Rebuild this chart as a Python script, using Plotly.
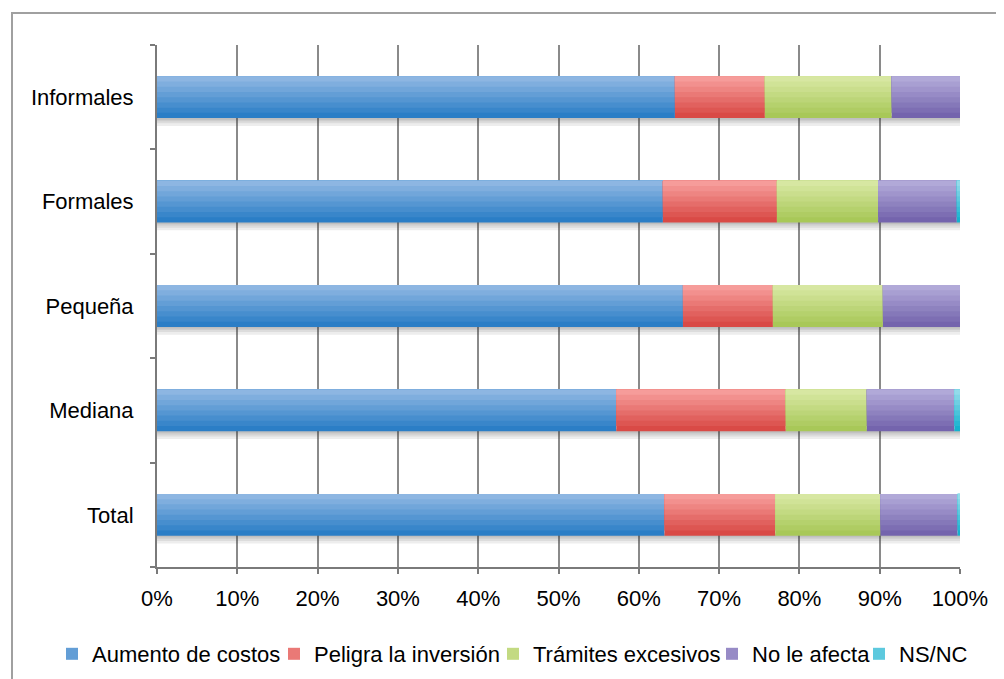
import plotly.graph_objects as go

categories = ["Total", "Mediana", "Pequeña", "Formales", "Informales"]
series_names = ["Aumento de costos", "Peligra la inversión", "Trámites excesivos", "No le afecta", "NS/NC"]
aumento = [63.2, 57.2, 65.5, 63.0, 64.5]
peligra = [13.8, 21.1, 11.2, 14.2, 11.2]
tramites = [13.1, 10.1, 13.7, 12.6, 15.8]
no_afecta = [9.6, 10.9, 9.6, 9.8, 8.5]
nsnc = [0.3, 0.7, 0.0, 0.4, 0.0]
x_ticks = [0, 10, 20, 30, 40, 50, 60, 70, 80, 90, 100]
x_ticklabels = [f"{v}%" for v in x_ticks]

series_values = [aumento, peligra, tramites, no_afecta, nsnc]
# gradient (top colour, bottom colour) per series
grad_top = ["#8DB6E2", "#F69C9A", "#D7E7A2", "#B1A9D8", "#93DBEA"]
grad_bot = ["#2B7EC6", "#D94A46", "#A8C858", "#7464AD", "#14B2CE"]


def hex_to_rgb(h):
    h = h.lstrip("#")
    return [int(h[i:i + 2], 16) for i in (0, 2, 4)]


def mix(c1, c2, t):
    a, b = hex_to_rgb(c1), hex_to_rgb(c2)
    return "rgb({},{},{})".format(*[round(a[i] + (b[i] - a[i]) * t) for i in range(3)])


# page has an 8px body margin; figure coordinates = page coordinates - 8
W, H = 996, 671
L, R, T, B = 149, 44, 37, 112
pw, ph = W - L - R, H - T - B

legend_text_x = [92, 314, 533, 752, 899]
legend_ids = ["legend", "legend2", "legend3", "legend4", "legend5"]

BAR_W = 0.4
N_STRIPS = 8
strip_w = BAR_W / N_STRIPS

fig = go.Figure()

# soft shadow under each bar (full length of the stacked bar)
totals = [sum(v[i] for v in series_values) for i in range(len(categories))]
for ext in [0.075, 0.05, 0.03, 0.015]:
    fig.add_trace(go.Bar(
        y=categories, x=totals, base=[0] * len(categories), orientation="h",
        width=ext + 0.02, offset=-BAR_W / 2 - ext,
        marker=dict(color="rgba(60,60,60,0.09)", line=dict(width=0)),
        showlegend=False, hoverinfo="skip",
    ))

cum = [0.0] * len(categories)
for s, (name, vals, lid) in enumerate(zip(series_names, series_values, legend_ids)):
    base = list(cum)
    for k in range(N_STRIPS):
        t = k / (N_STRIPS - 1)  # 0 = bottom, 1 = top
        col = mix(grad_bot[s], grad_top[s], t)
        # each layer reaches the top edge of the bar; later layers paint over earlier ones
        fig.add_trace(go.Bar(
            y=categories, x=vals, base=base, orientation="h", name=name,
            width=BAR_W - k * strip_w, offset=-BAR_W / 2 + k * strip_w,
            marker=dict(color=col, line=dict(width=0)),
            legend=lid, showlegend=(k == N_STRIPS // 2),
        ))
    cum = [c + v for c, v in zip(cum, vals)]

legend_y = (H - B - 646) / ph
legend_layouts = {}
for lid, tx in zip(legend_ids, legend_text_x):
    legend_layouts[lid] = dict(
        orientation="h", xref="container", x=(tx - 8 - 40) / W, xanchor="left",
        y=legend_y, yanchor="middle", font=dict(size=22), itemwidth=30,
        bgcolor="rgba(0,0,0,0)", borderwidth=0,
    )

fig.update_layout(
    width=W, height=H,
    barmode="overlay",
    margin=dict(l=L, r=R, t=T, b=B, autoexpand=False),
    paper_bgcolor="white", plot_bgcolor="white",
    font=dict(family="Liberation Sans, Arial, sans-serif", size=22, color="#000000"),
    showlegend=True,
    shapes=[dict(type="rect", xref="paper", yref="paper",
                 x0=(4 - L) / pw, x1=(1010 - L) / pw,
                 y0=(H - B - 690) / ph, y1=(H - B - 5) / ph,
                 line=dict(color="#A0A0A0", width=2), fillcolor="rgba(0,0,0,0)",
                 layer="below")],
    **legend_layouts,
)
fig.update_xaxes(
    range=[0, 100], tickvals=x_ticks, ticktext=x_ticklabels,
    showgrid=True, gridcolor="#8A8A8A", gridwidth=2,
    showline=True, linecolor="#7A7A7A", linewidth=2,
    ticks="outside", ticklen=5, tickcolor="#7A7A7A", tickwidth=2,
    ticklabelstandoff=6, tickangle=0, zeroline=False, fixedrange=True,
)
fig.update_yaxes(
    showgrid=False, showline=True, linecolor="#7A7A7A", linewidth=2,
    ticks="outside", tickson="boundaries", ticklen=5, tickcolor="#7A7A7A", tickwidth=2,
    ticklabelstandoff=17, fixedrange=True, range=[-0.5, 4.5],
)

fig.write_html("out.html")
